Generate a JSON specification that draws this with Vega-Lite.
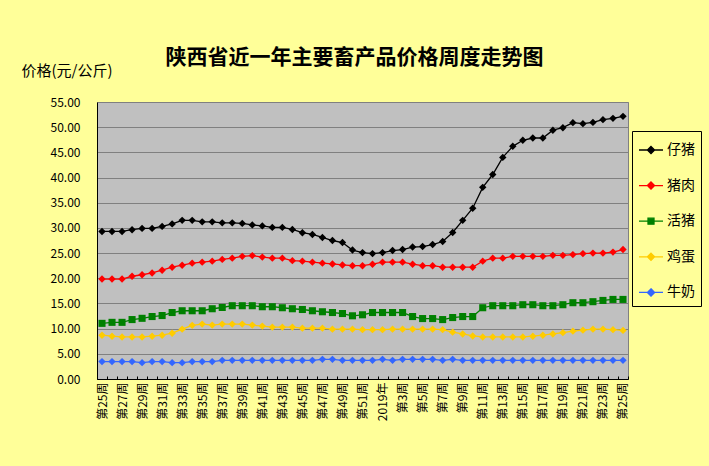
{
  "$schema": "https://vega.github.io/schema/vega-lite/v6.json",
  "width": 531,
  "height": 277,
  "autosize": "none",
  "padding": {"left": 97, "top": 102, "right": 81, "bottom": 87},
  "background": "#FFFF99",
  "title": {
    "text": "陕西省近一年主要畜产品价格周度走势图",
    "font": "Noto Sans CJK SC",
    "fontSize": 21,
    "fontWeight": "bold",
    "color": "black",
    "anchor": "middle",
    "frame": "group",
    "offset": -5,
    "dx": -8
  },
  "data": {
    "values": [
      {"i": 0, "week": "第25周", "仔猪": 29.3, "猪肉": 19.85, "活猪": 11.05, "鸡蛋": 8.7, "牛奶": 3.45},
      {"i": 1, "week": "第26周", "仔猪": 29.3, "猪肉": 19.85, "活猪": 11.25, "鸡蛋": 8.5, "牛奶": 3.45},
      {"i": 2, "week": "第27周", "仔猪": 29.3, "猪肉": 19.85, "活猪": 11.25, "鸡蛋": 8.35, "牛奶": 3.45},
      {"i": 3, "week": "第28周", "仔猪": 29.65, "猪肉": 20.4, "活猪": 11.8, "鸡蛋": 8.35, "牛奶": 3.45},
      {"i": 4, "week": "第29周", "仔猪": 29.9, "猪肉": 20.7, "活猪": 12.05, "鸡蛋": 8.35, "牛奶": 3.25},
      {"i": 5, "week": "第30周", "仔猪": 29.9, "猪肉": 21.05, "活猪": 12.4, "鸡蛋": 8.5, "牛奶": 3.45},
      {"i": 6, "week": "第31周", "仔猪": 30.3, "猪肉": 21.6, "活猪": 12.6, "鸡蛋": 8.7, "牛奶": 3.45},
      {"i": 7, "week": "第32周", "仔猪": 30.8, "猪肉": 22.2, "活猪": 13.2, "鸡蛋": 9.1, "牛奶": 3.25},
      {"i": 8, "week": "第33周", "仔猪": 31.5, "猪肉": 22.6, "活猪": 13.55, "鸡蛋": 9.9, "牛奶": 3.25},
      {"i": 9, "week": "第34周", "仔猪": 31.5, "猪肉": 23.0, "活猪": 13.55, "鸡蛋": 10.65, "牛奶": 3.45},
      {"i": 10, "week": "第35周", "仔猪": 31.2, "猪肉": 23.2, "活猪": 13.55, "鸡蛋": 10.9, "牛奶": 3.45},
      {"i": 11, "week": "第36周", "仔猪": 31.2, "猪肉": 23.4, "活猪": 13.95, "鸡蛋": 10.7, "牛奶": 3.45},
      {"i": 12, "week": "第37周", "仔猪": 31.0, "猪肉": 23.75, "活猪": 14.2, "鸡蛋": 10.9, "牛奶": 3.7},
      {"i": 13, "week": "第38周", "仔猪": 31.0, "猪肉": 24.0, "活猪": 14.55, "鸡蛋": 10.9, "牛奶": 3.7},
      {"i": 14, "week": "第39周", "仔猪": 30.9, "猪肉": 24.35, "活猪": 14.55, "鸡蛋": 10.9, "牛奶": 3.7},
      {"i": 15, "week": "第40周", "仔猪": 30.6, "猪肉": 24.5, "活猪": 14.55, "鸡蛋": 10.7, "牛奶": 3.7},
      {"i": 16, "week": "第41周", "仔猪": 30.4, "猪肉": 24.2, "活猪": 14.35, "鸡蛋": 10.5, "牛奶": 3.7},
      {"i": 17, "week": "第42周", "仔猪": 30.1, "猪肉": 24.0, "活猪": 14.35, "鸡蛋": 10.3, "牛奶": 3.7},
      {"i": 18, "week": "第43周", "仔猪": 30.1, "猪肉": 24.0, "活猪": 14.15, "鸡蛋": 10.3, "牛奶": 3.7},
      {"i": 19, "week": "第44周", "仔猪": 29.7, "猪肉": 23.5, "活猪": 13.95, "鸡蛋": 10.3, "牛奶": 3.7},
      {"i": 20, "week": "第45周", "仔猪": 29.05, "猪肉": 23.4, "活猪": 13.8, "鸡蛋": 10.1, "牛奶": 3.7},
      {"i": 21, "week": "第46周", "仔猪": 28.7, "猪肉": 23.2, "活猪": 13.55, "鸡蛋": 10.1, "牛奶": 3.7},
      {"i": 22, "week": "第47周", "仔猪": 28.1, "猪肉": 23.0, "活猪": 13.35, "鸡蛋": 10.1, "牛奶": 3.9},
      {"i": 23, "week": "第48周", "仔猪": 27.5, "猪肉": 22.85, "活猪": 13.2, "鸡蛋": 9.9, "牛奶": 3.9},
      {"i": 24, "week": "第49周", "仔猪": 27.1, "猪肉": 22.65, "活猪": 13.0, "鸡蛋": 9.9, "牛奶": 3.7},
      {"i": 25, "week": "第50周", "仔猪": 25.6, "猪肉": 22.5, "活猪": 12.55, "鸡蛋": 9.9, "牛奶": 3.7},
      {"i": 26, "week": "第51周", "仔猪": 25.1, "猪肉": 22.5, "活猪": 12.75, "鸡蛋": 9.8, "牛奶": 3.7},
      {"i": 27, "week": "第52周", "仔猪": 24.9, "猪肉": 22.8, "活猪": 13.2, "鸡蛋": 9.8, "牛奶": 3.7},
      {"i": 28, "week": "2019年", "仔猪": 25.1, "猪肉": 23.2, "活猪": 13.2, "鸡蛋": 9.8, "牛奶": 3.9},
      {"i": 29, "week": "第2周", "仔猪": 25.5, "猪肉": 23.2, "活猪": 13.2, "鸡蛋": 9.9, "牛奶": 3.7},
      {"i": 30, "week": "第3周", "仔猪": 25.7, "猪肉": 23.2, "活猪": 13.2, "鸡蛋": 9.9, "牛奶": 3.9},
      {"i": 31, "week": "第4周", "仔猪": 26.2, "猪肉": 22.8, "活猪": 12.4, "鸡蛋": 9.9, "牛奶": 3.9},
      {"i": 32, "week": "第5周", "仔猪": 26.3, "猪肉": 22.5, "活猪": 12.0, "鸡蛋": 9.9, "牛奶": 3.9},
      {"i": 33, "week": "第6周", "仔猪": 26.7, "猪肉": 22.5, "活猪": 12.0, "鸡蛋": 9.9, "牛奶": 3.9},
      {"i": 34, "week": "第7周", "仔猪": 27.3, "猪肉": 22.2, "活猪": 11.8, "鸡蛋": 9.8, "牛奶": 3.7},
      {"i": 35, "week": "第8周", "仔猪": 29.1, "猪肉": 22.2, "活猪": 12.2, "鸡蛋": 9.3, "牛奶": 3.9},
      {"i": 36, "week": "第9周", "仔猪": 31.5, "猪肉": 22.2, "活猪": 12.4, "鸡蛋": 8.95, "牛奶": 3.7},
      {"i": 37, "week": "第10周", "仔猪": 33.9, "猪肉": 22.2, "活猪": 12.4, "鸡蛋": 8.55, "牛奶": 3.7},
      {"i": 38, "week": "第11周", "仔猪": 38.05, "猪肉": 23.4, "活猪": 14.15, "鸡蛋": 8.35, "牛奶": 3.7},
      {"i": 39, "week": "第12周", "仔猪": 40.6, "猪肉": 24.0, "活猪": 14.55, "鸡蛋": 8.35, "牛奶": 3.7},
      {"i": 40, "week": "第13周", "仔猪": 44.0, "猪肉": 24.0, "活猪": 14.55, "鸡蛋": 8.35, "牛奶": 3.7},
      {"i": 41, "week": "第14周", "仔猪": 46.2, "猪肉": 24.35, "活猪": 14.55, "鸡蛋": 8.35, "牛奶": 3.7},
      {"i": 42, "week": "第15周", "仔猪": 47.4, "猪肉": 24.35, "活猪": 14.75, "鸡蛋": 8.35, "牛奶": 3.7},
      {"i": 43, "week": "第16周", "仔猪": 47.85, "猪肉": 24.35, "活猪": 14.75, "鸡蛋": 8.5, "牛奶": 3.7},
      {"i": 44, "week": "第17周", "仔猪": 47.85, "猪肉": 24.35, "活猪": 14.55, "鸡蛋": 8.7, "牛奶": 3.7},
      {"i": 45, "week": "第18周", "仔猪": 49.4, "猪肉": 24.55, "活猪": 14.55, "鸡蛋": 8.95, "牛奶": 3.7},
      {"i": 46, "week": "第19周", "仔猪": 49.9, "猪肉": 24.55, "活猪": 14.75, "鸡蛋": 9.2, "牛奶": 3.7},
      {"i": 47, "week": "第20周", "仔猪": 50.9, "猪肉": 24.7, "活猪": 15.15, "鸡蛋": 9.5, "牛奶": 3.7},
      {"i": 48, "week": "第21周", "仔猪": 50.7, "猪肉": 24.9, "活猪": 15.15, "鸡蛋": 9.7, "牛奶": 3.7},
      {"i": 49, "week": "第22周", "仔猪": 50.95, "猪肉": 25.0, "活猪": 15.35, "鸡蛋": 9.9, "牛奶": 3.7},
      {"i": 50, "week": "第23周", "仔猪": 51.5, "猪肉": 25.0, "活猪": 15.6, "鸡蛋": 9.9, "牛奶": 3.7},
      {"i": 51, "week": "第24周", "仔猪": 51.75, "猪肉": 25.2, "活猪": 15.8, "鸡蛋": 9.8, "牛奶": 3.7},
      {"i": 52, "week": "第25周", "仔猪": 52.15, "猪肉": 25.7, "活猪": 15.8, "鸡蛋": 9.65, "牛奶": 3.7}
    ]
  },
  "transform": [
    {"fold": ["仔猪", "猪肉", "活猪", "鸡蛋", "牛奶"], "as": ["series", "price"]}
  ],
  "encoding": {
    "x": {
      "field": "i",
      "type": "ordinal",
      "bandPosition": 0.5,
      "scale": {"type": "band", "paddingInner": 0, "paddingOuter": 0},
      "axis": {
        "title": null,
        "grid": false,
        "tickBand": "extent",
        "tickSize": -3,
        "tickColor": "black",
        "domainColor": "black",
        "labelAngle": -90,
        "labelOverlap": false,
        "labelFont": "Noto Sans CJK SC",
        "labelFontSize": 12,
        "labelColor": "black",
        "labelPadding": 6,
        "labelExpr": "!isNumber(datum.value) ? '' : datum.value % 2 == 1 ? '' : datum.value < 28 ? '第' + (datum.value + 25) + '周' : datum.value == 28 ? '2019年' : '第' + (datum.value - 27) + '周'"
      }
    },
    "y": {
      "field": "price",
      "type": "quantitative",
      "scale": {"domain": [0, 55], "nice": false, "zero": true},
      "axis": {
        "values": [0, 5, 10, 15, 20, 25, 30, 35, 40, 45, 50, 55],
        "format": ".2f",
        "title": "价格(元/公斤)",
        "titleFont": "Noto Sans CJK SC",
        "titleFontSize": 15,
        "titleFontWeight": "normal",
        "titleColor": "black",
        "titleAngle": 0,
        "titleAlign": "left",
        "titleBaseline": "middle",
        "titleX": -76,
        "titleY": -32,
        "ticks": false,
        "labelPadding": 17,
        "labelFont": "Noto Sans CJK SC",
        "labelFontSize": 12,
        "labelColor": "black",
        "domainColor": "black",
        "gridColor": "#808080",
        "gridWidth": 1
      }
    },
    "color": {
      "field": "series",
      "type": "nominal",
      "scale": {
        "domain": ["仔猪", "猪肉", "活猪", "鸡蛋", "牛奶"],
        "range": ["#000000", "#FF0000", "#008000", "#FFCC00", "#3366FF"]
      },
      "legend": {
        "orient": "none",
        "legendX": 535,
        "legendY": 29,
        "title": null,
        "fillColor": "#FFFF99",
        "strokeColor": "black",
        "padding": 6,
        "rowPadding": 15.6,
        "labelFont": "Noto Sans CJK SC",
        "labelFontSize": 14,
        "labelColor": "black",
        "labelOffset": 3,
        "symbolSize": 576,
        "symbolStrokeWidth": 1.3,
        "symbolType": "M-1,0L1,0M0,-0.3L0.3,0L0,0.3L-0.3,0Z",
        "encode": {
          "symbols": {
            "update": {
              "shape": {"signal": "datum.value == '活猪' ? 'M-1,0L1,0M-0.25,-0.25L0.25,-0.25L0.25,0.25L-0.25,0.25Z' : 'M-1,0L1,0M0,-0.3L0.3,0L0,0.3L-0.3,0Z'"},
              "fill": {"scale": "color", "field": "value"},
              "stroke": {"scale": "color", "field": "value"},
              "strokeWidth": {"value": 1.3},
              "opacity": {"value": 1}
            }
          }
        }
      }
    }
  },
  "layer": [
    {"mark": {"type": "line", "strokeWidth": 1.3}},
    {
      "transform": [{"filter": "datum.series != '活猪'"}],
      "mark": {"type": "point", "filled": true, "opacity": 1, "size": 55, "shape": "diamond"}
    },
    {
      "transform": [{"filter": "datum.series == '活猪'"}],
      "mark": {"type": "point", "filled": true, "opacity": 1, "size": 50, "shape": "square"}
    }
  ],
  "config": {
    "view": {"fill": "#C0C0C0", "stroke": "#808080"},
    "font": "Noto Sans CJK SC"
  }
}
